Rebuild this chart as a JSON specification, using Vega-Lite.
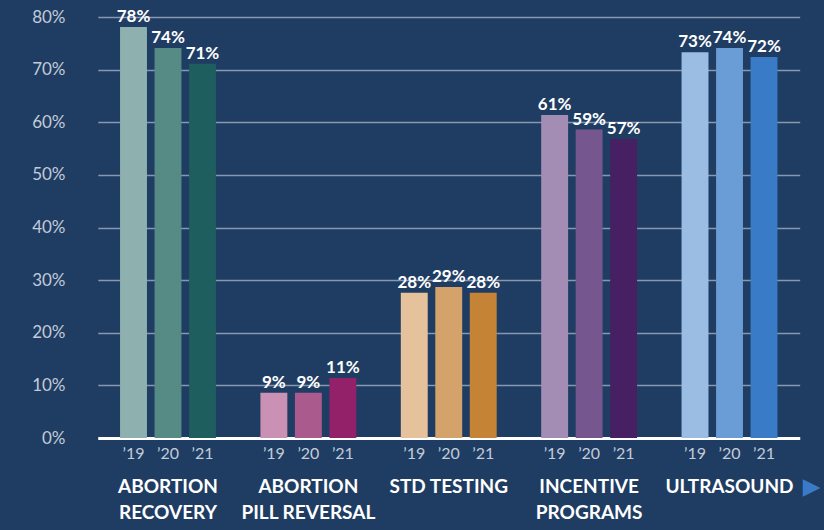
{
  "$schema": "https://vega.github.io/schema/vega-lite/v6.json",
  "width": 725,
  "height": 421,
  "autosize": {"type": "none"},
  "padding": {"left": 92, "top": 17, "right": 7, "bottom": 92},
  "background": "#1f3d63",
  "config": {
    "view": {"stroke": null},
    "font": "Lato"
  },
  "datasets": {
    "bars": [
      {"category": "ABORTION|RECOVERY", "year": "’19", "series": "AR19", "value": 0.781},
      {"category": "ABORTION|RECOVERY", "year": "’20", "series": "AR20", "value": 0.741},
      {"category": "ABORTION|RECOVERY", "year": "’21", "series": "AR21", "value": 0.711},
      {"category": "ABORTION|PILL REVERSAL", "year": "’19", "series": "PR19", "value": 0.086},
      {"category": "ABORTION|PILL REVERSAL", "year": "’20", "series": "PR20", "value": 0.086},
      {"category": "ABORTION|PILL REVERSAL", "year": "’21", "series": "PR21", "value": 0.114},
      {"category": "STD TESTING", "year": "’19", "series": "ST19", "value": 0.276},
      {"category": "STD TESTING", "year": "’20", "series": "ST20", "value": 0.287},
      {"category": "STD TESTING", "year": "’21", "series": "ST21", "value": 0.276},
      {"category": "INCENTIVE|PROGRAMS", "year": "’19", "series": "IP19", "value": 0.614},
      {"category": "INCENTIVE|PROGRAMS", "year": "’20", "series": "IP20", "value": 0.586},
      {"category": "INCENTIVE|PROGRAMS", "year": "’21", "series": "IP21", "value": 0.568},
      {"category": "ULTRASOUND", "year": "’19", "series": "US19", "value": 0.733},
      {"category": "ULTRASOUND", "year": "’20", "series": "US20", "value": 0.741},
      {"category": "ULTRASOUND", "year": "’21", "series": "US21", "value": 0.724}
    ],
    "arrow": [{"category": "ULTRASOUND", "value": 0, "glyph": "▶"}]
  },
  "encoding": {
    "x": {
      "field": "category",
      "type": "nominal",
      "sort": ["ABORTION|RECOVERY", "ABORTION|PILL REVERSAL", "STD TESTING", "INCENTIVE|PROGRAMS", "ULTRASOUND"],
      "scale": {"range": [5.8, 707.7], "paddingInner": 0, "paddingOuter": 0},
      "axis": {
        "title": null,
        "ticks": false,
        "domain": true,
        "domainColor": "#ffffff",
        "domainWidth": 3,
        "labelAngle": 0,
        "labelExpr": "split(datum.value, '|')",
        "labelColor": "#ffffff",
        "labelFont": "Lato",
        "labelFontWeight": "bold",
        "labelFontSize": 19,
        "labelLineHeight": 26,
        "labelBaseline": "top",
        "labelPadding": 39
      }
    },
    "y": {
      "field": "value",
      "type": "quantitative",
      "scale": {"domain": [0, 0.8]},
      "axis": {
        "title": null,
        "format": ".0%",
        "values": [0, 0.1, 0.2, 0.3, 0.4, 0.5, 0.6, 0.7, 0.8],
        "labelOverlap": false,
        "domain": false,
        "ticks": false,
        "grid": true,
        "gridColor": "#8797b0",
        "gridWidth": 1.5,
        "labelColor": "#c3cbd8",
        "labelFont": "Lato",
        "labelFontSize": 17,
        "labelPadding": 27
      }
    }
  },
  "layer": [
    {
      "data": {"name": "bars"},
      "mark": {"type": "bar"},
      "encoding": {
        "xOffset": {"field": "year", "type": "nominal", "scale": {"paddingInner": 0.22, "paddingOuter": 0.645}},
        "color": {
          "field": "series",
          "type": "nominal",
          "legend": null,
          "scale": {
            "domain": ["AR19", "AR20", "AR21", "PR19", "PR20", "PR21", "ST19", "ST20", "ST21", "IP19", "IP20", "IP21", "US19", "US20", "US21"],
            "range": ["#8eb1af", "#558a85", "#1e5e5e", "#cb91b5", "#ab5a8e", "#92216a", "#e5c29c", "#d4a36c", "#c58336", "#a48db5", "#76568e", "#471f63", "#9cbde3", "#6a9cd6", "#3a7bc8"]
          }
        }
      }
    },
    {
      "data": {"name": "bars"},
      "mark": {"type": "text", "baseline": "alphabetic", "dy": -5, "color": "#ffffff", "font": "Lato", "fontWeight": "bold", "fontSize": 17},
      "encoding": {
        "xOffset": {"field": "year", "type": "nominal", "scale": {"paddingInner": 0.22, "paddingOuter": 0.645}},
        "text": {"field": "value", "type": "quantitative", "format": ".0%"}
      }
    },
    {
      "data": {"name": "bars"},
      "mark": {"type": "text", "baseline": "alphabetic", "dy": 21, "color": "#c3cbd8", "font": "Lato", "fontSize": 16},
      "encoding": {
        "xOffset": {"field": "year", "type": "nominal", "scale": {"paddingInner": 0.22, "paddingOuter": 0.645}},
        "y": {"datum": 0},
        "text": {"field": "year", "type": "nominal"}
      }
    },
    {
      "data": {"name": "arrow"},
      "mark": {"type": "text", "baseline": "middle", "align": "center", "dx": 82, "dy": 49, "color": "#3a7bc8", "font": "DejaVu Sans", "fontSize": 23},
      "encoding": {
        "text": {"field": "glyph", "type": "nominal"}
      }
    }
  ]
}
